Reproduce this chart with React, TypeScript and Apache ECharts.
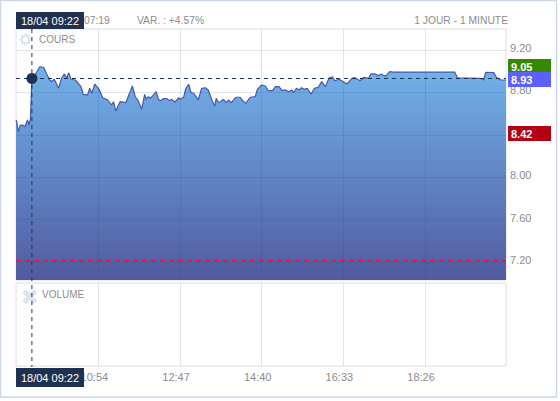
import React, { useEffect, useRef } from "react";
import * as echarts from "echarts";

const minutesFromOpen = [0,1,3,6,9,12,16,18,20,22,25,29,33,38,42,46,49,53,59,63,67,70,73,76,82,86,90,93,99,102,105,109,115,120,127,132,135,138,144,152,157,158,161,165,169,174,178,180,183,186,190,194,197,200,204,209,212,215,220,225,227,232,235,239,242,246,250,252,257,262,266,271,275,277,280,283,287,291,294,298,304,310,315,318,324,329,331,334,340,345,349,355,359,364,368,373,377,382,384,388,392,395,399,403,408,413,418,423,428,433,438,441,447,453,458,465,469,476,481,488,491,497,501,506,508,512,517,522,607,611,642,646,647,650,661,665,671,678];
const prices = [8.54,8.524,8.429,8.492,8.492,8.476,8.54,8.492,8.549,8.93,8.948,8.995,9.042,9.037,8.98,8.924,8.901,8.924,8.839,8.933,8.974,8.933,8.986,8.924,8.917,8.886,8.854,8.782,8.775,8.839,8.792,8.879,8.829,8.75,8.728,8.681,8.712,8.625,8.712,8.703,8.792,8.807,8.86,8.759,8.722,8.641,8.782,8.735,8.759,8.744,8.775,8.807,8.735,8.722,8.741,8.741,8.722,8.735,8.709,8.75,8.735,8.754,8.839,8.876,8.801,8.792,8.75,8.728,8.839,8.844,8.823,8.728,8.672,8.744,8.707,8.712,8.735,8.703,8.728,8.703,8.754,8.754,8.712,8.697,8.754,8.759,8.759,8.829,8.87,8.86,8.816,8.816,8.854,8.854,8.816,8.823,8.807,8.823,8.797,8.839,8.823,8.844,8.829,8.839,8.782,8.839,8.848,8.901,8.854,8.933,8.948,8.91,8.924,8.901,8.879,8.933,8.939,8.91,8.942,8.933,8.974,8.974,8.958,8.974,8.961,8.955,8.995,8.992,8.992,8.936,8.933,8.924,8.915,8.99,8.986,8.939,8.917,8.917];

const openMinute = 540;
const sessionLength = 678;
const timeTicks = ["10:54", "12:47", "14:40", "16:33", "18:26"];
const priceTicks = [7.2, 7.6, 8.0, 8.4, 8.8, 9.2];
const cursorMinute = 22;
const cursorPrice = 8.93;
const cursorLabel = "18/04 09:22";
const alertPrice = 7.215;
const highPrice = 9.05;
const openPrice = 8.42;

const toMinute = (s: string) => {
  const [h, m] = s.split(":").map(Number);
  return h * 60 + m - openMinute;
};
const toClock = (v: number) => {
  const t = Math.round(v) + openMinute;
  return `${Math.floor(t / 60)}:${String(t % 60).padStart(2, "0")}`;
};

const FONT = "Liberation Sans, Arial, sans-serif";
const GREY = "#8c8c8c";
const NAVY = "#1f3150";
const ICON = "#dde3ee";
const tickValues = timeTicks.map(toMinute);

export default function App() {
  const ref = useRef<HTMLDivElement>(null);
  useEffect(() => {
    document.body.style.margin = "0";
    const chart = echarts.init(ref.current!, null, { renderer: "svg" });
    const gridLine = { show: true, lineStyle: { color: "rgba(30,60,100,0.13)", width: 1 } };
    chart.setOption({
      animation: false,
      backgroundColor: "#fff",
      grid: [
        { left: 16, top: 29, width: 490, height: 251, show: true, borderColor: "#dedede", borderWidth: 1, backgroundColor: "#fff" },
        { left: 16, top: 283, width: 490, height: 83, show: true, borderColor: "#dedede", borderWidth: 1, backgroundColor: "#fff" },
      ],
      xAxis: [
        {
          type: "value", gridIndex: 0, min: 0, max: sessionLength, z: 3,
          axisLine: { show: false },
          axisTick: { show: false, customValues: tickValues },
          axisLabel: { show: false, customValues: tickValues },
          splitLine: gridLine,
        },
        {
          type: "value", gridIndex: 1, min: 0, max: sessionLength, z: 3,
          axisLine: { show: false },
          axisTick: { show: false, customValues: tickValues },
          axisLabel: {
            customValues: tickValues, formatter: (v: number) => toClock(v),
            color: GREY, fontFamily: FONT, fontSize: 11, margin: 5, padding: [0, 8, 0, 0],
          },
          splitLine: gridLine,
        },
      ],
      yAxis: [
        {
          type: "value", gridIndex: 0, position: "right", min: 7.03, max: 9.398, z: 3,
          axisLine: { show: false },
          axisTick: { show: false, customValues: priceTicks },
          axisLabel: {
            customValues: priceTicks, formatter: (v: number) => v.toFixed(2),
            color: GREY, fontFamily: FONT, fontSize: 11, margin: 4, verticalAlign: "bottom", lineHeight: 4,
          },
          splitLine: gridLine,
        },
        {
          type: "value", gridIndex: 1, min: 0, max: 1,
          axisLine: { show: false }, axisTick: { show: false }, axisLabel: { show: false }, splitLine: { show: false },
        },
      ],
      series: [
        {
          type: "line", xAxisIndex: 0, yAxisIndex: 0, symbol: "none", smooth: false, z: 2,
          data: minutesFromOpen.map((m, i) => [m, prices[i]]),
          lineStyle: { color: "#4459a8", width: 1.2 },
          areaStyle: {
            origin: "start",
            color: new echarts.graphic.LinearGradient(0, 0, 0, 1, [
              { offset: 0, color: "#72b2ea" },
              { offset: 1, color: "#515a9f" },
            ]),
            opacity: 1,
          },
          markLine: {
            silent: true, symbol: "none", label: { show: false }, animation: false, z: 6,
            data: [
              { yAxis: cursorPrice, lineStyle: { color: NAVY, type: [4, 4], width: 1 } },
              { yAxis: alertPrice, lineStyle: { color: "#f0104c", type: [5, 4], width: 2 } },
            ],
          },
          markPoint: {
            silent: true, symbol: "circle", symbolSize: 11, label: { show: false },
            itemStyle: { color: NAVY },
            data: [{ coord: [cursorMinute, cursorPrice] }],
          },
        },
      ],
    });

    const px = chart.convertToPixel({ gridIndex: 0 }, [cursorMinute, cursorPrice]) as number[];
    const py = (v: number) => (chart.convertToPixel({ gridIndex: 0 }, [0, v]) as number[])[1];
    const tag = (value: number, fill: string, z: number) => {
      const c = py(value);
      return [
        { type: "rect", z, shape: { x: 508, y: Math.round(c) - 7, width: 43, height: 15 }, style: { fill } },
        {
          type: "text", z: z + 1, x: 511, y: Math.round(c) + 0.5,
          style: { text: value.toFixed(2), fill: "#fff", font: `bold 11px ${FONT}`, verticalAlign: "middle" },
        },
      ];
    };
    const timeTag = (y: number, h: number) => [
      { type: "rect", z: 30, shape: { x: 16, y, width: 68, height: h }, style: { fill: NAVY } },
      {
        type: "text", z: 31, x: 50, y: y + h / 2,
        style: { text: cursorLabel, fill: "#fff", font: `11px ${FONT}`, align: "center", verticalAlign: "middle" },
      },
    ];
    const head = (text: string, x: number, align: string) => ({
      type: "text", z: 10, x, y: 20,
      style: { text, fill: GREY, font: `10.3px ${FONT}`, align, verticalAlign: "middle" },
    });
    const gearTeeth = Array.from({ length: 8 }, (_, i) => {
      const a = (i * Math.PI) / 4;
      return {
        type: "line", z: 9,
        shape: {
          x1: 25.5 + 3.5 * Math.cos(a), y1: 39.5 + 3.5 * Math.sin(a),
          x2: 25.5 + 6 * Math.cos(a), y2: 39.5 + 6 * Math.sin(a),
        },
        style: { stroke: ICON, lineWidth: 2 },
      };
    });
    chart.setOption({
      graphic: [
        { type: "rect", z: 0, shape: { x: 0.5, y: 0.5, width: 556, height: 396.5 }, style: { fill: "none", stroke: "#ced7e6", lineWidth: 1.5 } },
        head("07:19", 84, "left"),
        head("VAR. : +4.57%", 137, "left"),
        head("1 JOUR - 1 MINUTE", 508, "right"),
        { type: "ring", z: 9, shape: { cx: 25.5, cy: 39.5, r: 4.6, r0: 2.6 }, style: { fill: ICON } },
        ...gearTeeth,
        { type: "text", z: 10, x: 39, y: 39.5, style: { text: "COURS", fill: GREY, font: `10px ${FONT}`, verticalAlign: "middle" } },
        { type: "line", z: 9, shape: { x1: 24, y1: 291, x2: 35.5, y2: 302.5 }, style: { stroke: ICON, lineWidth: 5 } },
        { type: "line", z: 9, shape: { x1: 35.5, y1: 291, x2: 24, y2: 302.5 }, style: { stroke: ICON, lineWidth: 5 } },
        { type: "text", z: 10, x: 42, y: 294.5, style: { text: "VOLUME", fill: GREY, font: `10px ${FONT}`, verticalAlign: "middle" } },
        {
          type: "line", z: 20,
          shape: { x1: px[0], y1: 29, x2: px[0], y2: 367 },
          style: { stroke: NAVY, lineWidth: 1, lineDash: [4, 4] },
        },
        ...tag(openPrice, "#b30012", 22),
        ...tag(highPrice, "#338a00", 24),
        ...tag(cursorPrice, "#5b60ff", 26),
        ...timeTag(12, 17),
        ...timeTag(368, 19),
      ],
    });
    return () => chart.dispose();
  }, []);
  return <div ref={ref} style={{ width: 560, height: 401 }} />;
}
